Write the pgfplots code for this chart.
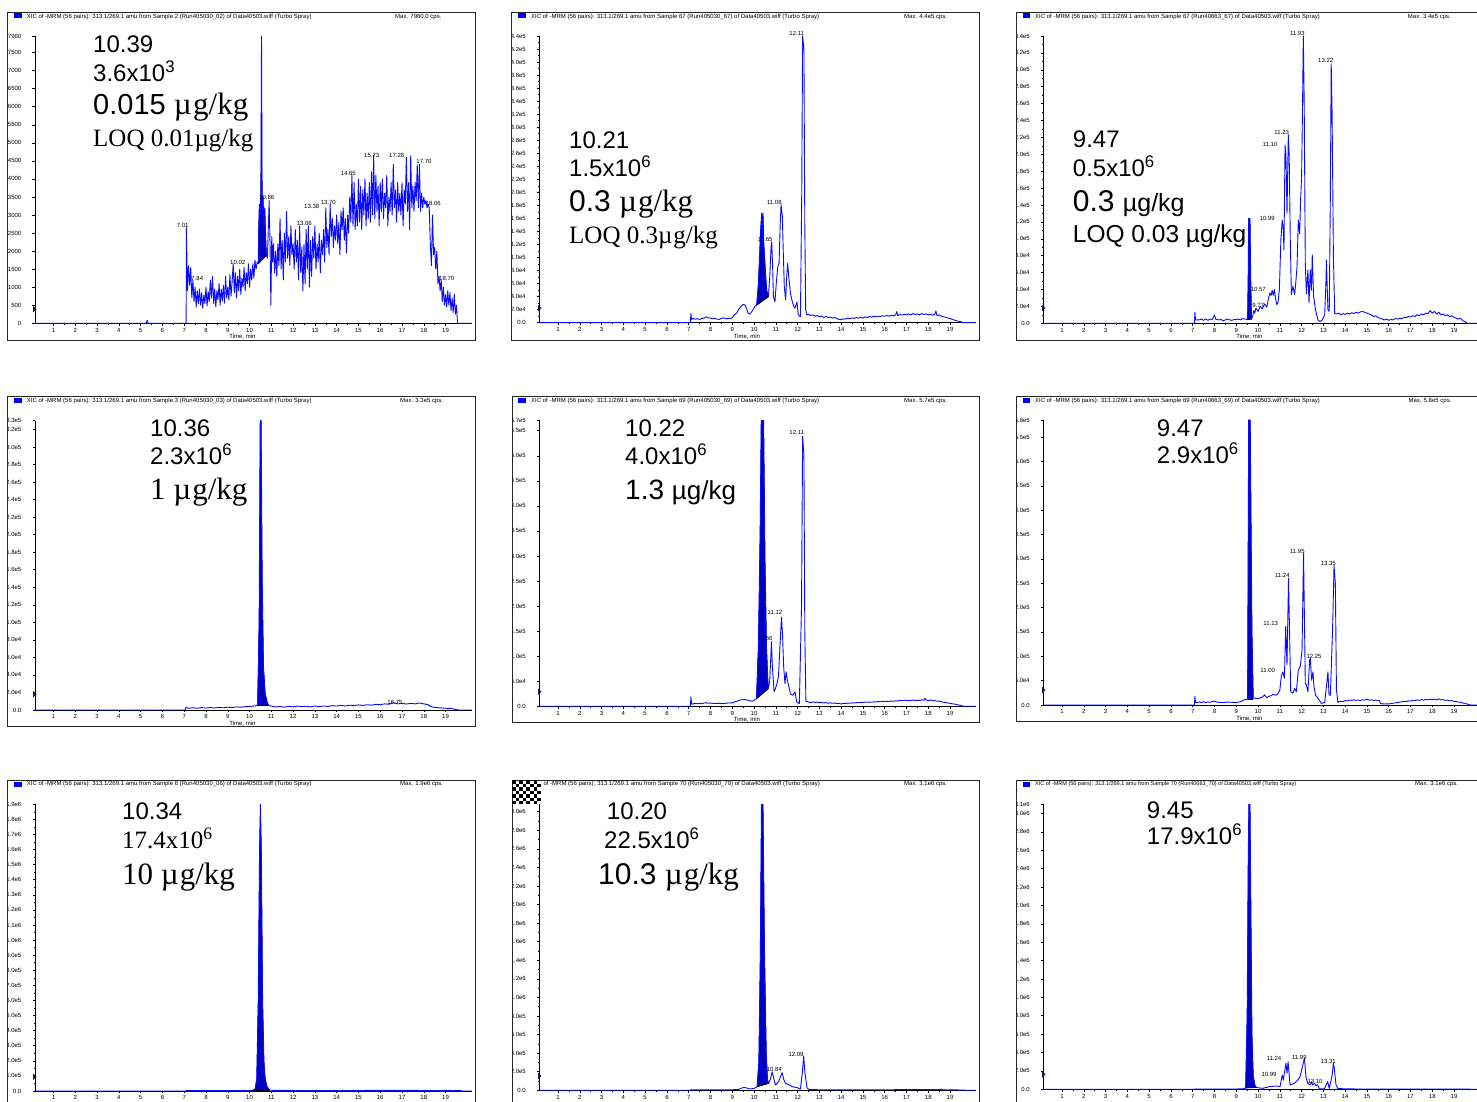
\documentclass[border=0pt]{standalone}
\usepackage{pgfplots}
\pgfplotsset{compat=1.18}
\usepackage{fontspec}
\setmainfont{Liberation Sans}
\newfontfamily\tm{Liberation Serif}
\definecolor{trace}{RGB}{10,10,255}
\definecolor{pk}{RGB}{0,0,190}
\definecolor{mk}{RGB}{20,20,90}
\newcommand{\fs}[1]{\fontsize{#1}{#1}\selectfont}
\pgfplotsset{
 chrom/.style={
  scale only axis, width=436.7pt, anchor=south west,
  xmin=0.15, xmax=20.2, ymin=0, clip=false,
  axis lines=left, axis line style={-, black, line width=0.7pt},
  xtick={1,2,...,19}, xticklabels={1,2,3,4,5,6,7,8,9,10,11,12,13,14,15,16,17,18,19},
  minor x tick num=1, minor y tick num=1,
  tick align=outside, major tick length=2.5pt, minor tick length=1.5pt,
  tick style={black, line width=0.5pt},
  scaled y ticks=false,
  /pgf/number format/assume math mode=true,
  xticklabel style={font=\fs{6}, inner sep=0pt, anchor=north, yshift=-2pt},
  yticklabel style={font=\fs{6}, inner sep=0pt, anchor=east, xshift=-11pt},
  xlabel={Time, min},
  xlabel style={font=\fs{6}, inner sep=0pt, at={(axis description cs:0.475,0)}, anchor=north, yshift=-11pt},
 },
 col3/.style={xmax=20.05, width=433.4pt},
 row3/.style={xlabel={}},
 tr/.style={trace, line width=0.9pt, line join=round, mark=none},
 pf/.style={fill=pk, draw=pk, line width=0.4pt, line join=round, mark=none},
 bl/.style={black, line width=0.8pt, mark=none},
}
\begin{document}
\begin{tikzpicture}[x=1pt,y=1pt]
\fill[white] (0,0) rectangle (1477,1102);
\clip (0,0) rectangle (1477,1102);

% ================= P1 =================
\begin{scope}
\clip (7.3,761.5) rectangle (475,1089.3);
\begin{axis}[chrom, at={(35pt,778.7pt)}, height=287.3pt, ymax=7960,
 ytick={0,500,1000,1500,2000,2500,3000,3500,4000,4500,5000,5500,6000,6500,7000,7500,7960},
 yticklabels={0,500,1000,1500,2000,2500,3000,3500,4000,4500,5000,5500,6000,6500,7000,7500,7960}]
\addplot[pf] coordinates {(10.40,1650) (10.42,2600) (10.45,3300) (10.48,2800) (10.52,3600) (10.55,7960) (10.58,3000) (10.62,3500) (10.66,2600) (10.70,3200) (10.74,2400) (10.77,1900)} -- cycle;
\addplot[tr] coordinates {(0.15,0) (5.25,0) (5.30,80) (5.35,0) (7.09,0) (7.10,2650)
(7.15,900) (7.20,1600) (7.25,1050) (7.30,1550) (7.35,700) (7.40,1200) (7.45,600) (7.50,1000) (7.55,450) (7.60,900)
(7.65,550) (7.70,950) (7.75,500) (7.80,850) (7.85,420) (7.90,780) (7.95,550) (8.00,1000) (8.05,480) (8.10,880)
(8.15,600) (8.20,1200) (8.25,700) (8.30,1300) (8.35,550) (8.40,950) (8.45,450) (8.50,900) (8.55,650) (8.60,1100)
(8.65,500) (8.70,950) (8.75,620) (8.80,1050) (8.85,560) (8.90,1300) (8.95,700) (9.00,1000) (9.05,650) (9.10,1350)
(9.15,750) (9.20,1150) (9.25,1650) (9.30,850) (9.35,1400) (9.40,700) (9.45,1300) (9.50,900) (9.55,1500) (9.60,800)
(9.65,1250) (9.70,1000) (9.75,1550) (9.80,900) (9.85,1400) (9.90,1100) (9.95,1650) (10.00,1000) (10.05,1500) (10.10,1200)
(10.15,1650) (10.20,1250) (10.25,1750) (10.30,1500) (10.35,1700) (10.40,1650) (10.42,2600) (10.45,3300) (10.48,2800) (10.52,3600)
(10.55,7960) (10.58,3000) (10.62,3500) (10.66,2600) (10.70,3200) (10.74,2400) (10.77,1900) (10.82,1800) (10.86,2600) (10.90,3400)
(10.94,2200) (10.98,500) (11.02,2400) (11.06,1700) (11.10,2200) (11.15,1400) (11.20,2000) (11.25,1300) (11.30,2200) (11.35,1600)
(11.40,2900) (11.45,1500) (11.50,2300) (11.55,1200) (11.60,2500) (11.65,1700) (11.70,3100) (11.75,1800) (11.80,2400) (11.85,1600)
(11.90,2700) (11.95,1900) (12.00,2200) (12.05,1500) (12.10,2600) (12.15,1700) (12.20,2300) (12.25,1200) (12.30,2700) (12.35,1400)
(12.40,2100) (12.45,900) (12.50,2200) (12.55,1100) (12.60,2600) (12.65,1500) (12.70,2700) (12.75,1000) (12.80,2300) (12.85,1300)
(12.90,2400) (12.95,1800) (13.00,2700) (13.05,1500) (13.10,2200) (13.15,1700) (13.20,2500) (13.25,1400) (13.30,2300) (13.35,1900)
(13.40,2600) (13.45,1700) (13.50,3200) (13.55,2100) (13.60,2600) (13.65,1900) (13.70,3300) (13.75,2400) (13.80,2900) (13.85,2100)
(13.90,2700) (13.95,2300) (14.00,3000) (14.05,2200) (14.10,2800) (14.15,1900) (14.20,3100) (14.25,2600) (14.30,3200) (14.35,2300)
(14.40,2900) (14.45,1950) (14.50,3000) (14.55,2500) (14.60,3500) (14.65,2800) (14.70,4100) (14.75,2700) (14.80,3900) (14.85,2600)
(14.90,3300) (14.95,2700) (15.00,4000) (15.05,2800) (15.10,3800) (15.15,2600) (15.20,3700) (15.25,3000) (15.30,4000) (15.35,2700)
(15.40,3600) (15.45,2900) (15.50,3900) (15.55,2800) (15.60,4200) (15.65,3000) (15.70,4650) (15.75,2900) (15.80,4100) (15.85,3100)
(15.90,3800) (15.95,2700) (16.00,3900) (16.05,3100) (16.10,4000) (16.15,2900) (16.20,3600) (16.25,3200) (16.30,4100) (16.35,2700)
(16.40,3500) (16.45,3100) (16.50,3900) (16.55,3000) (16.60,4400) (16.65,3200) (16.70,3700) (16.75,2800) (16.80,3900) (16.85,3100)
(16.90,3600) (16.95,3000) (17.00,3900) (17.05,2700) (17.10,3700) (17.15,3300) (17.20,4600) (17.25,3100) (17.30,3900) (17.35,2600)
(17.40,4650) (17.45,3200) (17.50,3800) (17.55,3100) (17.60,3900) (17.65,3400) (17.70,4400) (17.75,3200) (17.80,4400) (17.85,3100)
(17.90,3600) (17.95,3200) (18.00,3500) (18.05,3300) (18.10,3400) (18.15,3200) (18.20,3300) (18.25,3200) (18.30,2200) (18.35,1600)
(18.40,3000) (18.45,1900) (18.50,2100) (18.55,1500) (18.60,2000) (18.65,1100) (18.70,1300) (18.75,900) (18.80,1200) (18.85,600)
(18.90,1000) (18.95,500) (19.00,800) (19.05,450) (19.10,900) (19.15,500) (19.20,850) (19.25,350) (19.30,700) (19.35,300)
(19.40,800) (19.45,250) (19.50,500) (19.55,0) (20.20,0)};
\addplot[bl] coordinates {(10.40,1650) (10.77,1880)};
\end{axis}
\end{scope}

% ================= P2 =================
\begin{scope}
\clip (511.7,762) rectangle (979,1089.3);
\begin{axis}[chrom, at={(539.5pt,779.3pt)}, height=286.7pt, ymax=440000,
 ytick={0,20000,40000,60000,80000,100000,120000,140000,160000,180000,200000,220000,240000,260000,280000,300000,320000,340000,360000,380000,400000,420000,440000},
 yticklabels={0.0,2.0e4,4.0e4,6.0e4,8.0e4,1.0e5,1.2e5,1.4e5,1.6e5,1.8e5,2.0e5,2.2e5,2.4e5,2.6e5,2.8e5,3.0e5,3.2e5,3.4e5,3.6e5,3.8e5,4.0e5,4.2e5,4.4e5}]
\addplot[pf] coordinates {(10.12,27000) (10.2,60000) (10.30,140000) (10.35,168000) (10.39,120000) (10.41,168000) (10.45,120000) (10.52,80000) (10.58,50000) (10.66,40000)} -- cycle;
\addplot[tr] coordinates {(0.15,0) (7.08,0) (7.10,14000) (7.13,5000) (7.2,6500) (7.3,5500) (7.4,6000) (7.5,5000) (7.6,6500) (7.7,7000) (7.8,9000) (7.9,7500) (8.0,7000) (8.1,6000) (8.2,6500) (8.3,5500) (8.4,5000) (8.5,6500) (8.6,7500) (8.7,6000) (8.8,6500) (8.9,6000) (9.0,7500) (9.1,12000) (9.2,15000) (9.3,21000) (9.4,25000) (9.5,28000) (9.59,27000) (9.65,22000) (9.72,15000) (9.8,13000) (9.9,17000) (10.04,25000) (10.12,27000) (10.2,60000) (10.30,140000) (10.35,168000) (10.39,120000) (10.41,168000) (10.45,120000) (10.52,80000) (10.58,50000) (10.66,40000) (10.72,70000) (10.78,115000) (10.81,124000) (10.85,90000) (10.89,40000) (10.96,32000) (11.02,60000) (11.09,86000) (11.15,91000) (11.20,150000) (11.24,181000) (11.30,163000) (11.34,110000) (11.39,55000) (11.45,35000) (11.50,70000) (11.54,91000) (11.61,65000) (11.67,45000) (11.76,32000) (11.82,25000) (11.88,22000) (11.97,32000) (12.03,12000) (12.13,9000) (12.19,200000) (12.23,440000) (12.29,420000) (12.33,150000) (12.37,20000) (12.42,12000)
(12.5,13000) (12.6,11000) (12.7,12000) (12.8,10000) (12.9,11000) (13.0,9000) (13.1,10000) (13.2,8000) (13.3,9500) (13.4,8000) (13.5,8500) (13.6,7000) (13.7,8000) (13.8,6500) (13.9,5000) (14.0,4500) (14.1,6000) (14.2,5500) (14.3,7000) (14.4,6000) (14.5,7500) (14.6,6500) (14.7,8000) (14.8,7000) (14.9,8500) (15.0,7000) (15.1,9000) (15.2,8000) (15.3,9500) (15.4,8500) (15.5,10000) (15.6,9000) (15.7,10000) (15.8,9500) (15.9,10500) (16.0,10000) (16.1,11000) (16.2,10000) (16.3,11500) (16.4,10500) (16.5,12000) (16.55,17000) (16.6,11000) (16.7,12500) (16.8,11500) (16.9,13000) (17.0,12000) (17.1,13500) (17.2,12000) (17.3,14000) (17.4,12500) (17.5,13500) (17.6,12000) (17.7,14000) (17.8,12500) (17.9,13500) (18.0,12000) (18.1,13000) (18.2,11500) (18.3,13000) (18.35,18000) (18.4,11000) (18.5,12000) (18.6,10000) (18.7,9000) (18.8,8500) (18.9,7000) (19.0,6500) (19.1,5000) (19.2,4000) (19.3,3000) (19.4,2000) (19.5,1500) (19.6,0) (20.2,0)};
\addplot[bl] coordinates {(10.12,27000) (10.66,40000)};
\end{axis}
\end{scope}

% ================= P3 =================
\begin{scope}
\clip (1016,762) rectangle (1477,1089.3);
\begin{axis}[chrom, col3, at={(1043.5pt,778.7pt)}, height=287.3pt, ymax=340000,
 ytick={0,20000,40000,60000,80000,100000,120000,140000,160000,180000,200000,220000,240000,260000,280000,300000,320000,340000},
 yticklabels={0.0,2.0e4,4.0e4,6.0e4,8.0e4,1.0e5,1.2e5,1.4e5,1.6e5,1.8e5,2.0e5,2.2e5,2.4e5,2.6e5,2.8e5,3.0e5,3.2e5,3.4e5}]
\addplot[pf] coordinates {(9.52,4500) (9.55,60000) (9.57,124000) (9.63,124000) (9.66,60000) (9.70,5000)} -- cycle;
\addplot[tr] coordinates {(0.15,0) (7.08,0) (7.10,13000) (7.13,4000) (7.3,4000) (7.4,5000) (7.5,3500) (7.6,5000) (7.7,3500) (7.8,5000) (7.9,4500) (8.0,10000) (8.05,5000) (8.2,4000) (8.3,4500) (8.4,3000) (8.5,4000) (8.6,5000) (8.7,4000) (8.8,3500) (8.9,4500) (9.0,4500) (9.1,5000) (9.2,4000) (9.3,5500) (9.4,5000) (9.52,4500) (9.55,60000) (9.57,124000) (9.63,124000) (9.66,60000) (9.70,5000) (9.75,8000) (9.8,15000) (9.85,12000) (9.9,18000) (10.0,14000) (10.1,20000) (10.2,17000) (10.3,23000) (10.4,19000) (10.5,32000) (10.55,36000) (10.6,33000) (10.65,39000) (10.7,33000) (10.75,40000) (10.8,30000) (10.86,22000) (10.92,25000) (10.98,40000) (11.05,100000) (11.11,122000) (11.15,115000) (11.19,87000) (11.24,211000) (11.28,200000) (11.33,130000) (11.39,223000) (11.43,200000) (11.48,100000) (11.53,34000) (11.60,44000) (11.68,34000) (11.74,50000) (11.79,67000) (11.85,122000) (11.91,106000) (11.96,150000) (12.00,174000) (12.04,250000) (12.08,340000) (12.12,260000) (12.17,71000) (12.22,35000) (12.29,63000) (12.34,24000) (12.40,63000) (12.45,39000) (12.49,81000) (12.55,32000) (12.64,16000) (12.75,3900) (12.85,2000) (12.95,4000) (13.06,9900) (13.12,50000) (13.14,75000) (13.18,40000) (13.21,16000) (13.27,14000) (13.32,150000) (13.36,307000) (13.40,250000) (13.46,80000) (13.52,12000)
(13.6,11000) (13.7,12000) (13.8,10000) (13.9,11500) (14.0,10500) (14.1,12000) (14.2,11000) (14.3,12500) (14.4,11500) (14.5,13000) (14.6,12000) (14.7,13500) (14.8,14000) (14.9,13000) (15.0,12000) (15.1,11000) (15.2,10000) (15.3,8000) (15.4,9000) (15.5,7000) (15.6,6000) (15.7,5000) (15.8,4000) (15.9,5000) (16.0,3500) (16.1,4500) (16.2,4000) (16.3,5500) (16.4,5000) (16.5,6000) (16.6,5500) (16.7,7000) (16.8,6500) (16.9,8000) (17.0,7500) (17.1,9000) (17.2,8000) (17.3,10000) (17.4,9000) (17.5,11000) (17.6,10000) (17.7,12000) (17.8,11000) (17.9,15000) (18.0,12000) (18.1,14000) (18.2,11000) (18.3,13000) (18.4,10000) (18.5,11000) (18.6,9000) (18.7,10000) (18.8,8000) (18.9,9000) (19.0,7000) (19.1,6000) (19.2,5000) (19.3,6000) (19.4,3000) (19.5,2000) (19.6,0) (20.05,0)};
\addplot[bl] coordinates {(9.52,4500) (9.70,5000)};
\end{axis}
\end{scope}

% ================= P4 =================
\begin{scope}
\clip (7.7,376) rectangle (475,706);
\begin{axis}[chrom, at={(35pt,392pt)}, height=289.3pt, ymax=330000,
 ytick={0,20000,40000,60000,80000,100000,120000,140000,160000,180000,200000,220000,240000,260000,280000,300000,320000,330000},
 yticklabels={0.0,2.0e4,4.0e4,6.0e4,8.0e4,1.0e5,1.2e5,1.4e5,1.6e5,1.8e5,2.0e5,2.2e5,2.4e5,2.6e5,2.8e5,3.0e5,3.2e5,3.3e5}]
\addplot[pf] coordinates {(10.36,5000) (10.44,100000) (10.49,330000) (10.53,330000) (10.58,150000) (10.64,50000) (10.72,18000) (10.82,8000) (10.86,5000)} -- cycle;
\addplot[tr] coordinates {(0.15,0) (7.05,0) (7.08,3000) (7.2,2000) (7.4,2500) (7.6,2000) (7.8,2800) (8.0,2200) (8.2,2800) (8.4,2300) (8.6,3000) (8.8,2500) (9.0,3200) (9.2,2800) (9.4,3500) (9.6,3200) (9.8,3800) (10.0,4000) (10.2,4500) (10.3,5000) (10.38,6000) (10.44,100000) (10.49,330000) (10.53,330000) (10.58,150000) (10.64,50000) (10.72,18000) (10.82,8000) (10.9,5000) (11.0,4500) (11.2,3500) (11.4,4000) (11.6,3200) (11.8,4200) (12.0,3500) (12.2,4500) (12.4,3800) (12.6,4300) (12.8,3500) (13.0,4500) (13.2,3800) (13.4,4600) (13.6,4000) (13.8,5000) (14.0,4500) (14.2,5200) (14.4,4600) (14.6,5500) (14.8,5000) (15.0,5800) (15.2,5200) (15.4,6000) (15.6,5500) (15.8,6500) (16.0,6000) (16.2,7000) (16.4,6500) (16.6,8400) (16.8,7000) (17.0,7500) (17.2,6800) (17.4,7500) (17.6,7000) (17.8,8000) (18.0,7000) (18.2,6000) (18.3,4000) (18.5,3000) (18.7,2500) (19.0,2000) (19.3,1500) (19.6,0) (20.2,0)};
\addplot[bl] coordinates {(10.36,5000) (10.86,5000)};
\end{axis}
\end{scope}

% ================= P5 =================
\begin{scope}
\clip (512.3,379.3) rectangle (979,706);
\begin{axis}[chrom, at={(539.5pt,395.7pt)}, height=285.6pt, ymax=570000,
 ytick={0,50000,100000,150000,200000,250000,300000,350000,400000,450000,500000,550000,570000},
 yticklabels={0.0,5.0e4,1.0e5,1.5e5,2.0e5,2.5e5,3.0e5,3.5e5,4.0e5,4.5e5,5.0e5,5.5e5,5.7e5}]
\addplot[pf] coordinates {(10.11,15000) (10.2,120000) (10.28,350000) (10.33,570000) (10.44,570000) (10.5,300000) (10.57,120000) (10.65,35000)} -- cycle;
\addplot[tr] coordinates {(0.15,0) (7.08,0) (7.10,19000) (7.14,4000) (7.3,6000) (7.4,5000) (7.5,6000) (7.6,5000) (7.7,6500) (7.8,7000) (7.9,6000) (8.0,6500) (8.2,5500) (8.4,6000) (8.6,5500) (8.8,6500) (9.0,7000) (9.2,10000) (9.4,13000) (9.6,13500) (9.7,12000) (9.8,11000) (9.95,10000) (10.05,14000) (10.11,15000) (10.2,120000) (10.28,350000) (10.33,570000) (10.44,570000) (10.5,300000) (10.57,120000) (10.65,35000) (10.72,50000) (10.80,129000) (10.84,80000) (10.92,29000) (10.98,35000) (11.05,45000) (11.12,59000) (11.19,120000) (11.26,178000) (11.31,140000) (11.36,79000) (11.42,45000) (11.47,69000) (11.53,52000) (11.6,39000) (11.67,25000) (11.78,22000) (11.88,29000) (11.96,8700) (12.08,5300) (12.18,200000) (12.23,539000) (12.29,500000) (12.33,150000) (12.38,10000) (12.5,8700)
(12.6,7000) (12.7,9000) (12.8,7500) (12.9,8500) (13.0,7000) (13.1,8000) (13.2,6500) (13.3,7500) (13.4,6000) (13.5,7000) (13.6,6000) (13.7,6500) (13.8,5500) (13.9,6000) (14.0,4500) (14.1,6000) (14.2,5500) (14.3,6500) (14.4,6000) (14.5,7000) (14.6,6500) (14.7,7500) (14.8,7000) (14.9,8000) (15.0,7500) (15.1,8500) (15.2,8000) (15.3,8500) (15.4,8000) (15.5,9000) (15.6,8500) (15.7,9500) (15.8,9000) (15.9,10000) (16.0,9500) (16.1,10000) (16.2,9500) (16.3,10500) (16.4,10000) (16.5,11000) (16.6,10500) (16.7,12000) (16.8,11000) (16.9,12500) (17.0,11500) (17.1,12000) (17.2,11000) (17.3,12500) (17.4,11500) (17.5,12000) (17.6,11500) (17.7,13000) (17.8,12000) (17.85,16000) (17.9,12500) (18.0,11500) (18.1,12500) (18.2,11000) (18.3,11500) (18.4,10000) (18.5,10500) (18.6,9000) (18.7,8000) (18.8,7500) (18.9,6500) (19.0,6000) (19.1,5000) (19.2,4500) (19.3,3500) (19.4,2500) (19.5,2000) (19.6,0) (20.2,0)};
\addplot[bl] coordinates {(10.11,15000) (10.65,35000)};
\end{axis}
\end{scope}

% ================= P6 =================
\begin{scope}
\clip (1016,381) rectangle (1477,706);
\begin{axis}[chrom, col3, at={(1043.5pt,397pt)}, height=285pt, ymax=585000,
 ytick={0,50000,100000,150000,200000,250000,300000,350000,400000,450000,500000,550000,585000},
 yticklabels={0.0,5.0e4,1.0e5,1.5e5,2.0e5,2.5e5,3.0e5,3.5e5,4.0e5,4.5e5,5.0e5,5.5e5,5.8e5}]
\addplot[pf] coordinates {(9.52,12000) (9.57,585000) (9.64,585000) (9.72,150000) (9.78,12000)} -- cycle;
\addplot[tr] coordinates {(0.15,0) (7.08,0) (7.10,18000) (7.13,5000) (7.3,6000) (7.4,5000) (7.5,6500) (7.6,5000) (7.7,6000) (7.8,5500) (7.9,7000) (8.0,8000) (8.1,6000) (8.2,5500) (8.4,5000) (8.6,6000) (8.8,5500) (9.0,5000) (9.2,7000) (9.4,11000) (9.52,12000) (9.57,585000) (9.64,585000) (9.72,150000) (9.78,14000) (9.9,14000) (10.0,13000) (10.1,15000) (10.2,16000) (10.3,21000) (10.4,15000) (10.5,18000) (10.6,19000) (10.7,22000) (10.8,20000) (10.9,22000) (11.0,30000) (11.07,60000) (11.14,68000) (11.21,55000) (11.27,161000) (11.33,82000) (11.40,260000) (11.50,27000) (11.60,24000) (11.68,34000) (11.76,27000) (11.85,72000) (11.94,79000) (12.02,113000) (12.09,311000) (12.17,44000) (12.22,41000) (12.29,27000) (12.37,92000) (12.40,96000) (12.46,51000) (12.52,68000) (12.57,38000) (12.64,20000) (12.75,14000) (12.91,3400) (13.06,4800) (13.14,38000) (13.21,68000) (13.26,20000) (13.32,20000) (13.42,150000) (13.49,286000) (13.55,250000) (13.60,31000) (13.67,5000) (13.7,6800)
(13.8,7500) (13.9,7000) (14.0,9000) (14.1,8500) (14.2,10000) (14.3,9500) (14.4,10500) (14.5,9500) (14.6,10000) (14.7,9500) (14.8,10500) (14.9,10000) (15.0,12000) (15.1,10000) (15.2,10500) (15.3,9500) (15.4,10000) (15.5,9500) (15.58,9000) (15.62,3000) (15.7,2500) (15.8,2000) (15.9,2500) (16.0,2000) (16.1,3000) (16.2,3500) (16.3,4500) (16.4,5000) (16.5,6000) (16.6,6500) (16.7,7500) (16.8,7000) (16.9,8500) (17.0,8000) (17.1,9500) (17.2,9000) (17.3,10500) (17.4,9500) (17.5,11000) (17.6,10000) (17.7,11500) (17.8,10500) (17.9,12000) (18.0,11000) (18.1,12000) (18.2,10500) (18.3,12500) (18.4,10500) (18.5,11000) (18.6,9500) (18.7,10000) (18.8,8500) (18.9,9000) (19.0,7500) (19.1,7000) (19.2,6000) (19.3,5500) (19.4,4000) (19.5,3500) (19.6,2000) (19.75,0) (20.05,0)};
\addplot[bl] coordinates {(9.52,12000) (9.78,12000)};
\end{axis}
\end{scope}

% ================= P7 =================
\begin{scope}
\clip (7.7,0) rectangle (475,321.7);
\begin{axis}[chrom, row3, at={(35pt,11pt)}, height=286.7pt, ymax=1900000,
 ytick={0,100000,200000,300000,400000,500000,600000,700000,800000,900000,1000000,1100000,1200000,1300000,1400000,1500000,1600000,1700000,1800000,1900000},
 yticklabels={0.0,1.0e5,2.0e5,3.0e5,4.0e5,5.0e5,6.0e5,7.0e5,8.0e5,9.0e5,1.0e6,1.1e6,1.2e6,1.3e6,1.4e6,1.5e6,1.6e6,1.7e6,1.8e6,1.9e6}]
\addplot[pf] coordinates {(10.12,5000) (10.25,10000) (10.33,80000) (10.40,600000) (10.46,1600000) (10.50,1900000) (10.54,1600000) (10.60,600000) (10.66,200000) (10.72,80000) (10.80,30000) (10.90,10000) (10.95,5000)} -- cycle;
\addplot[tr] coordinates {(0.15,0) (7.05,0) (7.1,2000) (8,2000) (9,2500) (9.5,2500) (10.0,3000) (10.15,5000) (10.25,10000) (10.33,80000) (10.40,600000) (10.46,1600000) (10.50,1900000) (10.54,1600000) (10.60,600000) (10.66,200000) (10.72,80000) (10.80,30000) (10.90,10000) (10.95,5000) (11.2,4000) (12,3500) (13,3000) (14,3000) (15,3500) (16,4000) (17,4000) (18,3500) (19,3000) (19.7,2000) (19.8,0) (20.2,0)};
\addplot[bl] coordinates {(10.12,5000) (10.95,5000)};
\end{axis}
\end{scope}

% ================= P8 =================
\begin{scope}
\clip (512,0) rectangle (979,321.7);
\begin{axis}[chrom, row3, at={(539.5pt,11.7pt)}, height=286pt, ymax=3080000,
 ytick={0,200000,400000,600000,800000,1000000,1200000,1400000,1600000,1800000,2000000,2200000,2400000,2600000,2800000,3000000},
 yticklabels={0.0,2.0e5,4.0e5,6.0e5,8.0e5,1.0e6,1.2e6,1.4e6,1.6e6,1.8e6,2.0e6,2.2e6,2.4e6,2.6e6,2.8e6,3.0e6}]
\addplot[pf] coordinates {(10.14,39000) (10.22,300000) (10.29,1500000) (10.34,3080000) (10.41,3080000) (10.48,1500000) (10.56,400000) (10.62,110000) (10.67,75000)} -- cycle;
\addplot[tr] coordinates {(0.15,0) (7.05,0) (7.1,5000) (7.5,4000) (8.0,5000) (8.5,4000) (9.0,6000) (9.3,10000) (9.45,25000) (9.55,32000) (9.65,25000) (9.8,15000) (10.0,20000) (10.14,39000) (10.22,300000) (10.29,1500000) (10.34,3080000) (10.41,3080000) (10.48,1500000) (10.56,400000) (10.62,110000) (10.67,75000) (10.75,120000) (10.83,200000) (10.88,150000) (10.98,57000) (11.13,93000) (11.22,150000) (11.29,190000) (11.36,120000) (11.44,75000) (11.56,65000) (11.74,40000) (11.97,29000) (12.13,14000) (12.22,200000) (12.28,370000) (12.33,200000) (12.43,29000) (12.5,10000) (13,6000) (14,5000) (15,6000) (16,6000) (17,7000) (18,6500) (18.55,7000) (18.6,15000) (18.65,6000) (19,5000) (19.6,3000) (19.8,0) (20.2,0)};
\addplot[bl] coordinates {(10.14,39000) (10.67,75000)};
\end{axis}
\end{scope}

% ================= P9 =================
\begin{scope}
\clip (1016,0) rectangle (1477,322);
\begin{axis}[chrom, col3, row3, at={(1043.5pt,12.7pt)}, height=285pt, ymax=3100000,
 ytick={0,200000,400000,600000,800000,1000000,1200000,1400000,1600000,1800000,2000000,2200000,2400000,2600000,2800000,3000000,3100000},
 yticklabels={0.0,2.0e5,4.0e5,6.0e5,8.0e5,1.0e6,1.2e6,1.4e6,1.6e6,1.8e6,2.0e6,2.2e6,2.4e6,2.6e6,2.8e6,3.0e6,3.1e6}]
\addplot[pf] coordinates {(9.43,15000) (9.50,800000) (9.55,2500000) (9.58,3100000) (9.63,3100000) (9.67,2000000) (9.72,600000) (9.78,150000) (9.85,50000) (9.92,20000)} -- cycle;
\addplot[tr] coordinates {(0.15,0) (7.05,0) (7.1,3000) (8,3000) (9,3500) (9.3,5000) (9.43,15000) (9.50,800000) (9.55,2500000) (9.58,3100000) (9.63,3100000) (9.67,2000000) (9.72,600000) (9.78,150000) (9.85,50000) (9.92,20000) (10.21,10000) (10.52,29000) (10.83,36000) (11.01,29000) (11.11,156000) (11.16,100000) (11.28,283000) (11.33,175000) (11.38,300000) (11.47,47000) (11.67,65000) (11.82,100000) (11.93,138000) (12.13,337000) (12.20,138000) (12.28,65000) (12.39,47000) (12.45,83000) (12.51,47000) (12.59,65000) (12.66,40000) (12.74,50000) (12.81,3600) (13.04,5000) (13.20,83000) (13.27,10000) (13.40,150000) (13.46,283000) (13.50,230000) (13.58,47000) (13.66,10000) (14,4000) (15,3500) (16,3000) (17,3500) (18,3500) (19,3000) (19.7,2000) (19.8,0) (20.05,0)};
\addplot[bl] coordinates {(9.43,15000) (9.92,20000)};
\end{axis}
\end{scope}

% ================= overlay in image coordinates =================
\begin{scope}[shift={(0,1102)}, yscale=-1]
\draw[black!85, line width=0.8pt] (7.3,12.7) rectangle (475,340.5);
\draw[black!85, line width=0.8pt] (511.7,12.7) rectangle (979,340);
\draw[black!85, line width=0.8pt] (1477,12.7) -- (1016,12.7) -- (1016,340) -- (1477,340);
\draw[black!85, line width=0.8pt] (7.7,396) rectangle (475,726);
\draw[black!85, line width=0.8pt] (512.3,396) rectangle (979,722.7);
\draw[black!85, line width=0.8pt] (1477,396) -- (1016,396) -- (1016,721) -- (1477,721);
\draw[black!85, line width=0.8pt] (7.7,1102) -- (7.7,780.3) -- (475,780.3) -- (475,1102);
\draw[black!85, line width=0.8pt] (512,1102) -- (512,780.3) -- (979,780.3) -- (979,1102);
\draw[black!85, line width=0.8pt] (1016,1102) -- (1016,780.3) -- (1477,780.3);
\fill[blue] (14,13.3) rectangle (21.7,18.3);
\fill[blue] (518.3,13.3) rectangle (526,18.3);
\fill[blue] (1022.7,13.3) rectangle (1030.3,18.3);
\fill[blue] (14,398.3) rectangle (21.7,402.7);
\fill[blue] (518.3,398.3) rectangle (526,402.7);
\fill[blue] (1022.7,398.3) rectangle (1030.3,402.7);
\fill[blue] (14,782.3) rectangle (21.7,786.7);
\fill[blue] (1022.7,782.3) rectangle (1030.3,786.7);
\foreach \i in {0,...,7}{\foreach \j in {0,...,6}{\pgfmathtruncatemacro\k{mod(\i+\j,2)}\ifnum\k=0 \fill[black] ({512+\i*3.6},{780.3+\j*3.45}) rectangle ++(3.6,3.45);\fi}}
\begin{scope}[every node/.style={anchor=west, inner sep=0pt, font=\fs{6}}]
\node at (26.7,16.7) {XIC of -MRM (56 pairs): 313.1/269.1 amu from Sample 2 (Run405030\_02) of Data40503.wiff (Turbo Spray)};
\node at (395,16.7) {Max. 7960.0 cps.};
\node at (531,16.7) {XIC of -MRM (56 pairs): 313.1/269.1 amu from Sample 67 (Run405030\_67) of Data40503.wiff (Turbo Spray)};
\node at (904,16.7) {Max. 4.4e5 cps.};
\node at (1035,16.7) {XIC of -MRM (56 pairs): 313.1/269.1 amu from Sample 67 (Run40663\_67) of Data40503.wiff (Turbo Spray)};
\node at (1407.7,16.7) {Max. 3.4e5 cps.};
\node at (26.7,400.7) {XIC of -MRM (56 pairs): 313.1/269.1 amu from Sample 3 (Run405030\_03) of Data40503.wiff (Turbo Spray)};
\node at (400,400.7) {Max. 3.3e5 cps.};
\node at (531,400.7) {XIC of -MRM (56 pairs): 313.1/269.1 amu from Sample 69 (Run405030\_69) of Data40503.wiff (Turbo Spray)};
\node at (904,400.7) {Max. 5.7e5 cps.};
\node at (1035,400.7) {XIC of -MRM (56 pairs): 313.1/269.1 amu from Sample 69 (Run40663\_69) of Data40503.wiff (Turbo Spray)};
\node at (1408.3,400.7) {Max. 5.8e5 cps.};
\node at (26.7,784.3) {XIC of -MRM (56 pairs): 313.1/269.1 amu from Sample 6 (Run405030\_06) of Data40503.wiff (Turbo Spray)};
\node at (400,784.3) {Max. 1.9e6 cps.};
\node at (543.3,784.3) {of -MRM (56 pairs): 313.1/269.1 amu from Sample 70 (Run405030\_70) of Data40503.wiff (Turbo Spray)};
\node at (904,784.3) {Max. 3.1e6 cps.};
\node[font=\fs{5.5}] at (1035,784.3) {XIC of -MRM (56 pairs): 313.1/269.1 amu from Sample 70 (Run40663\_70) of Data40503.wiff (Turbo Spray)};
\node at (1415,784.3) {Max. 3.1e6 cps.};
\end{scope}
\foreach \x/\y in {33/309.3, 538/308, 1042/308, 33/694.3, 538/691.7, 1042/690, 33/1076.7, 538/1076, 1042/1074.3}{
 \fill[mk] (\x,\y-3.3) -- (\x+3.5,\y) -- (\x,\y+3.3) -- cycle;}
\begin{scope}[every node/.style={inner sep=0pt, font=\fs{6}}]
\node at (182.7,225.7) {7.01}; \node at (197.3,278.3) {7.84}; \node at (237.7,262.7) {10.02};
\node at (266.7,197.7) {10.86}; \node at (304.3,223.7) {13.06}; \node at (311.7,206.7) {13.38};
\node at (328.3,202.7) {13.70}; \node at (348.3,173.7) {14.65}; \node at (371.7,155.7) {15.73};
\node at (396.7,155.7) {17.28}; \node at (424,161.7) {17.70}; \node at (433.3,203.7) {18.06};
\node at (446.7,278.7) {18.70};
\node at (796.7,33.3) {12.11}; \node at (774.3,202.3) {11.08}; \node at (765,239.3) {10.65};
\node at (1297.3,33.3) {11.93}; \node at (1325.7,60.7) {13.22}; \node at (1281.7,132.7) {11.23};
\node at (1270,144.7) {11.10}; \node at (1267.3,218.7) {10.99}; \node at (1258.3,289.3) {10.57};
\node at (1258.3,305.3) {9.77};
\node at (395,702.7) {16.75};
\node at (796.7,432.7) {12.11}; \node at (775,612.3) {11.12}; \node at (765,638.3) {10.66};
\node at (1297.3,551.7) {11.95}; \node at (1328.3,563.7) {13.35}; \node at (1282.3,575.7) {11.24};
\node at (1270.7,623.7) {11.13}; \node at (1314,656.7) {12.25}; \node at (1267.7,670.7) {11.00};
\node at (796,1054.3) {12.09}; \node at (774.3,1069.7) {10.84};
\node at (1274,1058) {11.24}; \node at (1299.3,1057) {11.99}; \node at (1328.3,1061) {13.31};
\node at (1269,1074) {10.99}; \node at (1315,1081) {13.10};
\end{scope}
\begin{scope}[every node/.style={anchor=base west, inner sep=0pt}]
\node at (93,53) {\fs{24}10.39};
\node at (93,82) {\fs{24}3.6x10\textsuperscript{3}};
\node at (93,115) {\fs{29}0.015 {\tm\fs{31}µ\kern1.5pt g/kg}};
\node at (93,147) {\tm\fs{25}LOQ 0.01µg/kg};
\node at (569,148.3) {\fs{24}10.21};
\node at (569,176.7) {\fs{24}1.5x10\textsuperscript{6}};
\node at (569,211.7) {\fs{30}0.3 {\tm\fs{31}µ\kern1pt g/kg}};
\node at (569,243.3) {\tm\fs{25}LOQ 0.3µ\kern1pt g/kg};
\node at (1072.7,147.7) {\fs{24}9.47};
\node at (1072.7,176.7) {\fs{24}0.5x10\textsuperscript{6}};
\node at (1072.7,212) {\fs{30}0.3 {\fs{25}µg/kg}};
\node at (1072.7,243) {\fs{24.5}LOQ 0.03 µg/kg};
\node at (150,436.7) {\fs{24}10.36};
\node at (150,465) {\fs{24}2.3x10\textsuperscript{6}};
\node at (150,500) {\tm\fs{31}1 µ\kern1pt g/kg};
\node at (625,436.7) {\fs{24}10.22};
\node at (625,465) {\fs{24}4.0x10\textsuperscript{6}};
\node at (625,500) {\fs{28}1.3 {\fs{26}µg/kg}};
\node at (1156.7,436.7) {\fs{24}9.47};
\node at (1156.7,464) {\fs{24}2.9x10\textsuperscript{6}};
\node at (122,820) {\fs{24}10.34};
\node at (122,849) {\tm\fs{25}17.4x10\textsuperscript{6}};
\node at (122,885) {\tm\fs{31}10 µ\kern1pt g/kg};
\node at (606.7,820) {\fs{24}10.20};
\node at (604,849) {\fs{24}22.5x10\textsuperscript{6}};
\node at (598,885) {\fs{30}10.3 {\tm\fs{31}µ\kern1pt g/kg}};
\node at (1146.7,818.3) {\fs{24}9.45};
\node at (1146.7,845) {\fs{24}17.9x10\textsuperscript{6}};
\end{scope}
\end{scope}
\end{tikzpicture}
\end{document}
